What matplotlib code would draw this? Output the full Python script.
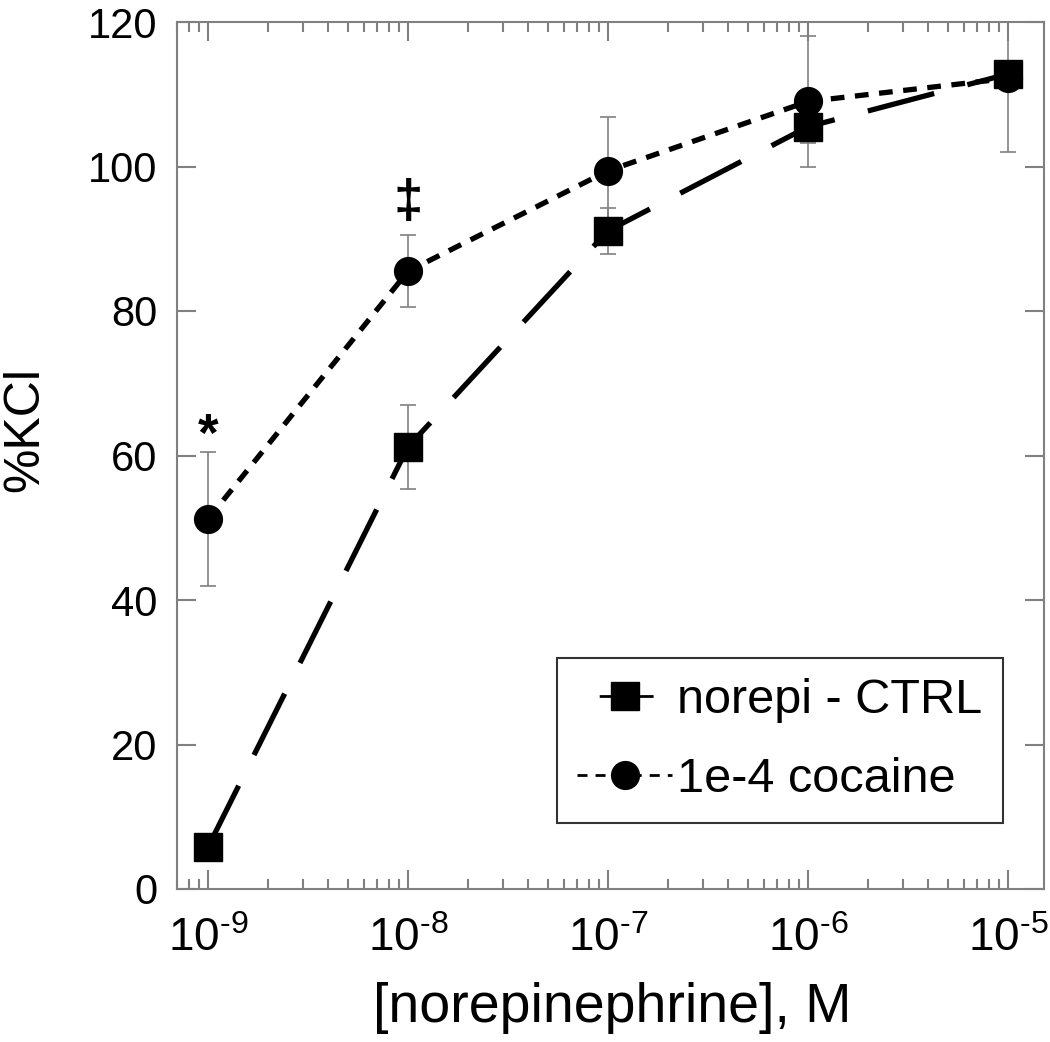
import matplotlib
matplotlib.use("Agg")
import matplotlib.pyplot as plt
import numpy as np

plt.rcParams['font.family'] = ['Liberation Sans', 'DejaVu Sans']
plt.rcParams['mathtext.fontset'] = 'custom'
plt.rcParams['mathtext.rm'] = 'Liberation Sans'

conc = [1e-9, 1e-8, 1e-7, 1e-6, 1e-5]
ctrl = [5.8, 61.2, 91.1, 105.5, 112.8]
ctrl_err = [0.0, 5.8, 3.2, 2.2, 0.0]
coc = [51.2, 85.5, 99.4, 109.0, 112.2]
coc_err = [9.3, 5.0, 7.4, 9.1, 10.2]
labels = ["norepi - CTRL", "1e-4 cocaine"]
annots = [("*", 1e-9, 62.5), ("\u2021", 1e-8, 95.0)]
yticks = [0, 20, 40, 60, 80, 100, 120]
xtick_exps = ["-9", "-8", "-7", "-6", "-5"]

fig = plt.figure(figsize=(10.5, 10.42), dpi=100)
ax = fig.add_axes([177/1050, 1-889/1042, (1044-177)/1050, (889-22)/1042])

gray = '#808080'
ax.errorbar(conc, ctrl, yerr=ctrl_err, fmt='none', ecolor=gray, elinewidth=1.2, capsize=6, capthick=1.2, zorder=2)
ax.errorbar(conc, coc, yerr=coc_err, fmt='none', ecolor=gray, elinewidth=1.2, capsize=6, capthick=1.2, zorder=2)
ax.plot(conc, ctrl, color='black', lw=3.8, dashes=(13, 6.5), marker='s', ms=20, mfc='black', mec='black', label=labels[0], zorder=3)
ax.plot(conc, coc, color='black', lw=3.8, dashes=(2.6, 2.0), marker='o', ms=20, mfc='black', mec='black', label=labels[1], zorder=3)

for t, x, y in annots:
    ax.text(x, y, t, ha='center', va='center', fontsize=38, fontweight='bold')

ax.set_xscale('log')
ax.set_xlim(10**-9.155, 10**-4.82)
ax.set_ylim(0, 120)
ax.set_yticks(yticks)
ax.set_xticks(conc)
ax.set_xticklabels([r'$\mathregular{10^{\text{%s}}}$' % e for e in xtick_exps])
ax.tick_params(which='major', direction='in', length=14, width=1.5, color=gray,
               top=True, right=True)
ax.tick_params(axis='y', labelsize=30, pad=14)
ax.tick_params(axis='x', which='major', labelsize=33, pad=20)
ax.tick_params(which='minor', direction='in', length=7, width=1.5, color=gray, top=True, right=True)
for s in ax.spines.values():
    s.set_color(gray)
    s.set_linewidth(1.5)

ax.set_xlabel('[norepinephrine], M', fontsize=40)
ax.xaxis.set_label_coords((612-177)/867, (889-982)/867)
ax.set_ylabel('%KCl', fontsize=36)
ax.yaxis.set_label_coords((48-177)/867, (889-429)/867)

leg = ax.legend(loc='upper left', bbox_to_anchor=(557/1050, 1-658/1042), bbox_transform=fig.transFigure,
                fontsize=35, frameon=True, fancybox=False, edgecolor='black', handlelength=1.95,
                borderpad=0.42, labelspacing=0.7, handletextpad=0.1, borderaxespad=0)
leg.get_frame().set_linewidth(1.5)
hs = leg.legend_handles
for h in hs:
    h.set_linewidth(2)
    h.set_markersize(20)
hs[0].set_linestyle((111.4, (19.4, 100)))
hs[1].set_linestyle((0, (3.6, 2.9)))

fig.savefig('out.png', dpi=100)
